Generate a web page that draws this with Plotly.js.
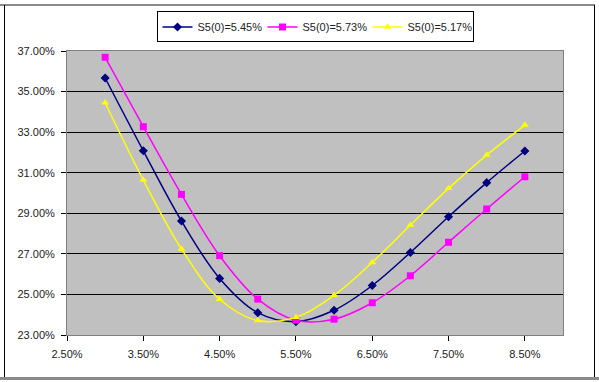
<!DOCTYPE html>
<html>
<head>
<meta charset="utf-8">
<script src="https://cdn.plot.ly/plotly-3.0.1.min.js"></script>
<style>
  html, body { margin: 0; padding: 0; background: #ffffff; }
  #chart { position: absolute; left: 0; top: 0; width: 599px; height: 382px; }
  .frame { position: absolute; pointer-events: none; }
</style>
</head>
<body>
<div id="chart"></div>
<div class="frame" style="left:0px; top:4px; width:595px; height:2px; background:#8a8a8a;"></div>
<div class="frame" style="left:4px; top:5px; width:1px; height:373px; background:#000;"></div>
<div class="frame" style="left:594px; top:5px; width:1px; height:373px; background:#000;"></div>
<div class="frame" style="left:0px; top:377px; width:599px; height:3px; background:#8a8a8a;"></div>
<script>
// x values (strike, %)
const strikes = [3.0, 3.5, 4.0, 4.5, 5.0, 5.5, 6.0, 6.5, 7.0, 7.5, 8.0, 8.5];
// series values (%)
const s545 = [35.67, 32.08, 28.62, 25.79, 24.10, 23.66, 24.22, 25.44, 27.07, 28.83, 30.51, 32.07];
const s573 = [36.69, 33.27, 29.93, 26.91, 24.77, 23.73, 23.78, 24.59, 25.92, 27.57, 29.21, 30.80];
const s517 = [34.45, 30.64, 27.24, 24.76, 23.71, 23.88, 24.96, 26.58, 28.42, 30.23, 31.87, 33.35];
const seriesNames = ["S5(0)=5.45%", "S5(0)=5.73%", "S5(0)=5.17%"];

const traces = [
  { x: strikes, y: s545, name: seriesNames[0], mode: "lines+markers",
    line: { color: "#000080", width: 1.5, shape: "spline", smoothing: 1 },
    marker: { symbol: "diamond", size: 7, color: "#000080" } },
  { x: strikes, y: s573, name: seriesNames[1], mode: "lines+markers",
    line: { color: "#FF00FF", width: 1.5, shape: "spline", smoothing: 1 },
    marker: { symbol: "square", size: 7, color: "#FF00FF" } },
  { x: strikes, y: s517, name: seriesNames[2], mode: "lines+markers",
    line: { color: "#FFFF00", width: 1.5, shape: "spline", smoothing: 1 },
    marker: { symbol: "triangle-up", size: 7, color: "#FFFF00" } }
];

const font = { family: "Liberation Sans, Arial, sans-serif", size: 11, color: "#222" };

const layout = {
  width: 599, height: 382,
  margin: { l: 67, r: 36, t: 51, b: 47, pad: 0, autoexpand: false },
  paper_bgcolor: "#ffffff",
  plot_bgcolor: "#c0c0c0",
  font: font,
  showlegend: true,
  legend: {
    orientation: "h", x: 0.5, xanchor: "center",
    yref: "container", y: 0.97, yanchor: "top",
    bgcolor: "#ffffff", bordercolor: "#000000", borderwidth: 1,
    font: font, itemwidth: 30, tracegroupgap: 0,
    entrywidth: 60, entrywidthmode: "pixels"
  },
  xaxis: {
    range: [2.5, 9.0], tick0: 2.5, dtick: 1,
    tickformat: ".2f", ticksuffix: "%",
    ticks: "outside", ticklen: 5, tickcolor: "#000", tickwidth: 1,
    showgrid: false, zeroline: false,
    showline: true, linecolor: "#808080", linewidth: 1, mirror: true,
    ticklabelstandoff: 4
  },
  yaxis: {
    range: [23, 37], tick0: 23, dtick: 2,
    tickformat: ".2f", ticksuffix: "%",
    ticks: "outside", ticklen: 5, tickcolor: "#000", tickwidth: 1,
    showgrid: true, gridcolor: "#000000", gridwidth: 1,
    zeroline: false,
    showline: true, linecolor: "#808080", linewidth: 1, mirror: true,
    ticklabelstandoff: 4
  }
};

Plotly.newPlot("chart", traces, layout, { displayModeBar: false, staticPlot: true });
</script>
</body>
</html>
